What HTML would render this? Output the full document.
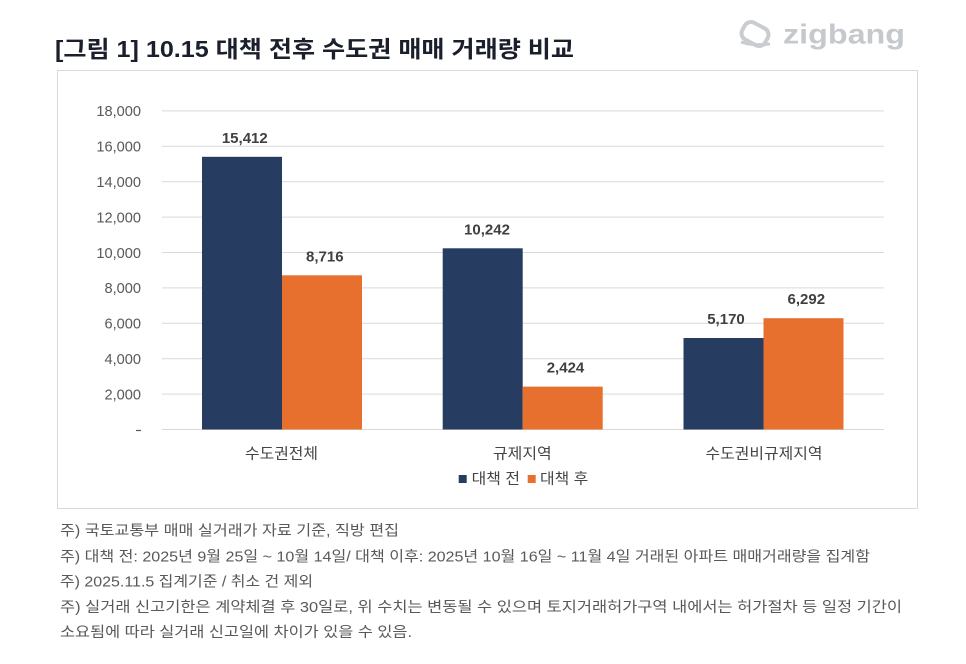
<!DOCTYPE html>
<html>
<head>
<meta charset="utf-8">
<style>
  html, body { margin: 0; padding: 0; background: #ffffff; }
  svg { display: block; }
  text { font-family: "Liberation Sans", "Noto Sans CJK KR", sans-serif; }
</style>
</head>
<body>
<svg width="966" height="664" viewBox="0 0 966 664" xmlns="http://www.w3.org/2000/svg">
  <rect x="0" y="0" width="966" height="664" fill="#ffffff"/>

  <!-- Title -->
  <text x="55" y="57" font-size="23" font-weight="bold" fill="#1a1f2b" textLength="519" lengthAdjust="spacingAndGlyphs">[그림 1] 10.15 대책 전후 수도권 매매 거래량 비교</text>

  <!-- Logo -->
  <g transform="translate(755,34) rotate(28)">
    <rect x="-13" y="-9.5" width="26" height="19" rx="7" ry="7" fill="none" stroke="#c9ccd0" stroke-width="4"/>
  </g>
  <path d="M741 42 Q752 46 770 44" fill="none" stroke="#c9ccd0" stroke-width="3"/>
  <text x="783" y="43.5" font-size="28" font-weight="bold" fill="#c5c8cc" textLength="122" lengthAdjust="spacingAndGlyphs">zigbang</text>

  <!-- Chart frame -->
  <rect x="57.5" y="70.5" width="860" height="438" fill="#ffffff" stroke="#d9d9d9" stroke-width="1"/>

  <!-- Gridlines -->
  <g stroke="#d9d9d9" stroke-width="1">
    <line x1="162" y1="110.9" x2="884" y2="110.9"/>
    <line x1="162" y1="146.3" x2="884" y2="146.3"/>
    <line x1="162" y1="181.7" x2="884" y2="181.7"/>
    <line x1="162" y1="217.1" x2="884" y2="217.1"/>
    <line x1="162" y1="252.5" x2="884" y2="252.5"/>
    <line x1="162" y1="287.9" x2="884" y2="287.9"/>
    <line x1="162" y1="323.3" x2="884" y2="323.3"/>
    <line x1="162" y1="358.7" x2="884" y2="358.7"/>
    <line x1="162" y1="394.1" x2="884" y2="394.1"/>
    <line x1="162" y1="429.5" x2="884" y2="429.5"/>
  </g>

  <!-- Y tick labels -->
  <g font-size="14.6" fill="#595959" text-anchor="end">
    <text x="141" y="116.2">18,000</text>
    <text x="141" y="151.6">16,000</text>
    <text x="141" y="187">14,000</text>
    <text x="141" y="222.4">12,000</text>
    <text x="141" y="257.8">10,000</text>
    <text x="141" y="293.2">8,000</text>
    <text x="141" y="328.6">6,000</text>
    <text x="141" y="364">4,000</text>
    <text x="141" y="399.4">2,000</text>
  </g>
  <line x1="136" y1="430.5" x2="141" y2="430.5" stroke="#595959" stroke-width="1.2"/>

  <!-- Bars -->
  <g>
    <rect x="202" y="156.8" width="80" height="272.7" fill="#263c60"/>
    <rect x="282" y="275.3" width="80" height="154.2" fill="#e8702f"/>
    <rect x="442.7" y="248.3" width="80" height="181.2" fill="#263c60"/>
    <rect x="522.7" y="386.6" width="80" height="42.9" fill="#e8702f"/>
    <rect x="683.5" y="338" width="80" height="91.5" fill="#263c60"/>
    <rect x="763.5" y="318.2" width="80" height="111.3" fill="#e8702f"/>
  </g>

  <!-- Data labels -->
  <g font-size="15" font-weight="bold" fill="#404040" text-anchor="middle">
    <text x="244.8" y="142.8">15,412</text>
    <text x="324.8" y="261.3">8,716</text>
    <text x="487" y="234.3">10,242</text>
    <text x="565.5" y="372.6">2,424</text>
    <text x="726" y="324">5,170</text>
    <text x="806.3" y="304.2">6,292</text>
  </g>

  <!-- Category labels -->
  <g font-size="15" fill="#454545">
    <text x="245" y="458.5" textLength="73" lengthAdjust="spacingAndGlyphs">수도권전체</text>
    <text x="493" y="458.5" textLength="58.7" lengthAdjust="spacingAndGlyphs">규제지역</text>
    <text x="705.5" y="458.5" textLength="117" lengthAdjust="spacingAndGlyphs">수도권비규제지역</text>
  </g>

  <!-- Legend -->
  <rect x="458.7" y="475" width="8" height="8" fill="#263c60"/>
  <text x="471.7" y="483.5" font-size="15" fill="#454545" textLength="48.3" lengthAdjust="spacingAndGlyphs">대책 전</text>
  <rect x="527.7" y="475" width="8" height="8" fill="#e8702f"/>
  <text x="540" y="483.5" font-size="15" fill="#454545" textLength="48.3" lengthAdjust="spacingAndGlyphs">대책 후</text>

  <!-- Notes -->
  <g font-size="14.5" fill="#595959">
    <text x="60" y="535.4" textLength="339" lengthAdjust="spacingAndGlyphs">주) 국토교통부 매매 실거래가 자료 기준, 직방 편집</text>
    <text x="60" y="561.5" textLength="810" lengthAdjust="spacingAndGlyphs">주) 대책 전: 2025년 9월 25일 ~ 10월 14일/ 대책 이후: 2025년 10월 16일 ~ 11월 4일 거래된 아파트 매매거래량을 집계함</text>
    <text x="60" y="586.4" textLength="253" lengthAdjust="spacingAndGlyphs">주) 2025.11.5 집계기준 / 취소 건 제외</text>
    <text x="60" y="612" textLength="842" lengthAdjust="spacingAndGlyphs">주) 실거래 신고기한은 계약체결 후 30일로, 위 수치는 변동될 수 있으며 토지거래허가구역 내에서는 허가절차 등 일정 기간이</text>
    <text x="60" y="637" textLength="352" lengthAdjust="spacingAndGlyphs">소요됨에 따라 실거래 신고일에 차이가 있을 수 있음.</text>
  </g>
</svg>
</body>
</html>
